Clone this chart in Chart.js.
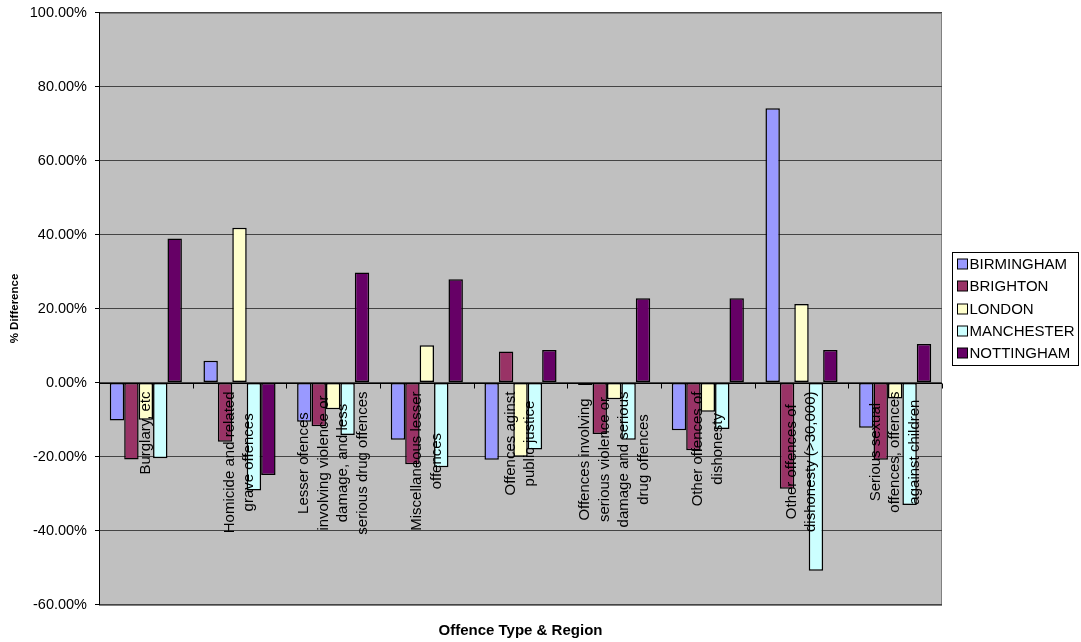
<!DOCTYPE html>
<html>
<head>
<meta charset="utf-8">
<title>Offence Type & Region</title>
<script src="https://cdn.jsdelivr.net/npm/chart.js@4/dist/chart.umd.min.js"></script>
<style>
  html, body { margin: 0; padding: 0; background: #fff; }
  #wrap { width: 1081px; height: 642px; position: relative; }
</style>
</head>
<body>
<div id="wrap"><canvas id="offenceChart"></canvas></div>
<script>
  // categories (multi-line labels as drawn under the zero line)
  const categories = [
    ['Burglary, etc'],
    ['Homicide and related', 'grave offences'],
    ['Lesser ofences', 'involving violence or', 'damage, and less', 'serious drug offences'],
    ['Miscellaneous lesser', 'offences'],
    ['Offences aginst', 'public justice'],
    ['Offences involving', 'serious violence or', 'damage and serious', 'drug offences'],
    ['Other offences of', 'dishonesty'],
    ['Other offences of', 'dishonesty (>30,000)'],
    ['Serious sexual', 'offences, offences', 'against children']
  ];

  const regions = ['BIRMINGHAM', 'BRIGHTON', 'LONDON', 'MANCHESTER', 'NOTTINGHAM'];

  // % difference per category
  const birmingham = [-10.3, 5.9, -10.6, -15.5, -20.9, -0.7, -12.9, 74.1, -12.2];
  const brighton   = [-20.8, -16.0, -11.8, -22.1, 8.4, -13.9, -18.3, -28.7, -20.9];
  const london     = [-10.1, 41.8, -7.2, 10.1, -20.1, -4.5, -7.9, 21.2, -4.3];
  const manchester = [-20.5, -29.2, -14.2, -22.9, -18.1, -15.5, -12.6, -50.9, -33.1];
  const nottingham = [38.9, -25.0, 29.7, 27.9, 8.8, 22.8, 22.8, 8.8, 10.4];

  const seriesValues = [birmingham, brighton, london, manchester, nottingham];
  const regionColours = ['#9999FF', '#993366', '#FFFFCC', '#CCFFFF', '#660066'];

  const yTickValues = [-60, -40, -20, 0, 20, 40, 60, 80, 100];

  const FONT = '"Liberation Sans", Arial, sans-serif';

  const plotBackground = {
    id: 'plotBackground',
    beforeDraw(chart) {
      const { ctx, chartArea: a } = chart;
      ctx.save();
      ctx.fillStyle = '#fff';
      ctx.fillRect(0, 0, chart.width, chart.height);
      ctx.fillStyle = '#C0C0C0';
      ctx.fillRect(a.left, a.top, a.width, a.height);
      ctx.strokeStyle = '#808080';
      ctx.lineWidth = 1;
      ctx.strokeRect(Math.round(a.left) + 0.5, Math.round(a.top) + 0.5,
                     Math.round(a.width) - 1, Math.round(a.height));
      ctx.restore();
    }
  };

  // zero axis line, its tick marks and the rotated category labels
  const categoryLabels = {
    id: 'categoryLabels',
    afterDatasetsDraw(chart) {
      const { ctx, chartArea: a, scales: { x, y } } = chart;
      const zero = y.getPixelForValue(0);
      const zeroPx = Math.round(zero) + 0.5;
      const half = (x.getPixelForValue(1) - x.getPixelForValue(0)) / 2;
      ctx.save();
      ctx.strokeStyle = '#000';
      ctx.lineWidth = 1;
      ctx.beginPath();
      ctx.moveTo(a.left, zeroPx);
      ctx.lineTo(a.right, zeroPx);
      for (let i = 0; i <= categories.length; i++) {
        const px = Math.round(x.getPixelForValue(i) - half) + 0.5;
        ctx.moveTo(px, zeroPx);
        ctx.lineTo(px, zeroPx + 5);
      }
      ctx.stroke();

      ctx.font = '15px ' + FONT;
      ctx.fillStyle = '#000';
      ctx.textAlign = 'center';
      ctx.textBaseline = 'middle';
      categories.forEach((lines, i) => {
        const widest = Math.max(...lines.map(l => ctx.measureText(l).width));
        ctx.save();
        ctx.translate(x.getPixelForValue(i), zero + 9);
        ctx.rotate(-Math.PI / 2);
        lines.forEach((l, k) => {
          ctx.fillText(l, -widest / 2, (k - (lines.length - 1) / 2) * 19.5);
        });
        ctx.restore();
      });
      ctx.restore();
    }
  };

  const boxedLegend = {
    id: 'boxedLegend',
    afterDraw(chart) {
      const { ctx, chartArea: a } = chart;
      const left = Math.round(a.right) + 10.5;
      const top = 252.5;
      const step = 22.3;
      ctx.save();
      ctx.strokeStyle = '#000';
      ctx.lineWidth = 1;
      ctx.strokeRect(left, top, 126, 113);
      ctx.font = '15px ' + FONT;
      ctx.textBaseline = 'middle';
      ctx.textAlign = 'left';
      chart.data.datasets.forEach((ds, i) => {
        const cy = Math.round(top + 11.5 + i * step);
        ctx.fillStyle = ds.backgroundColor;
        ctx.fillRect(left + 5, cy - 5, 10, 10);
        ctx.strokeRect(left + 5, cy - 5, 10, 10);
        ctx.fillStyle = '#000';
        ctx.fillText(ds.label, left + 17, cy + 0.5);
      });
      ctx.restore();
    }
  };

  new Chart(document.getElementById('offenceChart'), {
    type: 'bar',
    data: {
      labels: categories,
      datasets: regions.map((name, i) => ({
        label: name,
        data: seriesValues[i],
        backgroundColor: regionColours[i],
        borderColor: '#000',
        borderWidth: 1.5,
        borderSkipped: false,
        categoryPercentage: 0.77,
        barPercentage: 1
      }))
    },
    options: {
      responsive: true,
      maintainAspectRatio: false,
      animation: false,
      devicePixelRatio: 1,
      layout: { padding: { top: 12.5, right: 139, bottom: 0, left: 0 } },
      plugins: {
        legend: { display: false },
        tooltip: { enabled: false }
      },
      scales: {
        x: {
          offset: true,
          grid: { display: false },
          border: { display: false },
          ticks: { display: false },
          afterFit(scale) { scale.height = 37.5; },
          title: {
            display: true,
            text: 'Offence Type & Region',
            color: '#000',
            font: { family: FONT, size: 15, weight: 'bold' },
            padding: { top: 0, bottom: 2 }
          }
        },
        y: {
          min: yTickValues[0],
          max: yTickValues[yTickValues.length - 1],
          afterFit(scale) {
            scale.width = 99;
            scale.paddingTop = 0;
            scale.paddingBottom = 0;
          },
          ticks: {
            stepSize: yTickValues[1] - yTickValues[0],
            color: '#000',
            padding: 8,
            font: { family: FONT, size: 14.5 },
            callback: v => v.toFixed(2) + '%'
          },
          grid: { color: '#444', tickColor: '#000', tickLength: 4 },
          border: { color: '#000' },
          title: {
            display: true,
            text: '% Difference',
            color: '#000',
            font: { family: FONT, size: 11.5, weight: 'bold' },
            padding: { top: 8, bottom: 0 }
          }
        }
      }
    },
    plugins: [plotBackground, categoryLabels, boxedLegend]
  });
</script>
</body>
</html>
